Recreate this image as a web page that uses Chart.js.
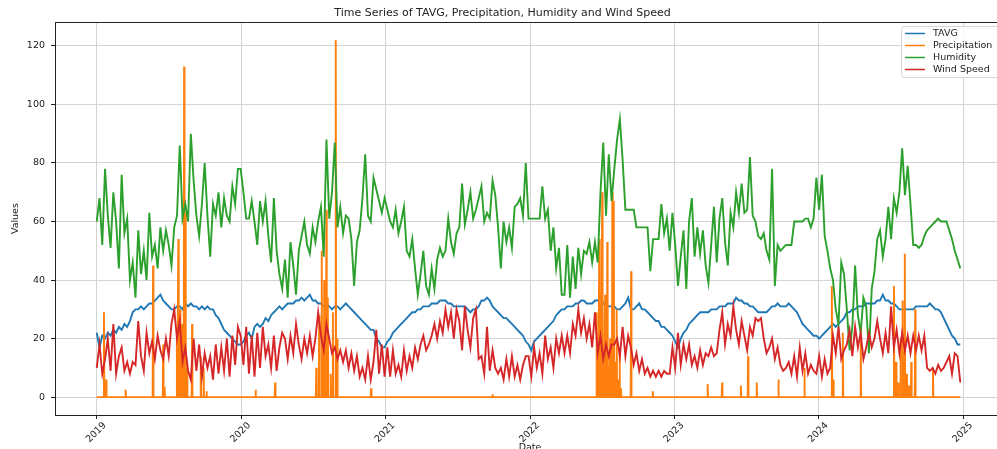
<!DOCTYPE html>
<html>
<head>
<meta charset="utf-8">
<script src="https://cdn.jsdelivr.net/npm/chart.js@4.4.1/dist/chart.umd.min.js"></script>
<style>
html, body { margin: 0; padding: 0; background: #fff; overflow: hidden; }
</style>
</head>
<body>
<canvas id="weatherChart" width="1012" height="449"></canvas>
<script>
const yearTicks = [2019, 2020, 2021, 2022, 2023, 2024, 2025];
const valueTicks = [0, 20, 40, 60, 80, 100, 120];
const seriesNames = ['TAVG', 'Precipitation', 'Humidity', 'Wind Speed'];
const seriesColors = ['#1f77b4', '#ff7f0e', '#2ca02c', '#d62728'];

// weekly readings, one row per year
const tavg = [
  22,17,21,20,22,21,23,22,24,23,25,24,26,29,30,30,31,30,31,32,32,33,34,35,33,32,31,30,30,31,31,30,32,31,32,31,31,30,31,30,31,30,30,28,27,25,23,22,21,20,19,18,
  18,19,21,22,20,24,25,24,25,27,26,28,29,30,31,30,31,32,32,32,33,33,34,33,34,35,33,33,32,32,31,32,31,30,31,31,30,31,32,31,30,29,28,27,26,25,24,23,23,20,19,17,
  17,19,20,22,23,24,25,26,27,28,29,29,30,30,31,31,31,32,32,32,33,33,33,32,32,31,31,31,31,31,30,29,30,30,31,33,33,34,33,31,30,29,28,27,27,26,25,24,23,22,21,19,
  18,16,19,20,21,22,23,24,25,26,28,29,30,30,31,31,31,32,32,33,33,32,32,32,33,33,34,32,31,31,31,31,30,30,31,32,34,30,30,31,32,30,30,29,28,27,26,26,24,24,23,22,
  21,19,17,20,22,23,25,26,27,28,29,29,29,29,30,30,30,31,31,31,32,32,32,34,33,33,32,32,31,31,30,29,29,29,29,30,31,31,32,31,31,31,32,31,30,29,27,25,24,23,22,21,
  21,20,21,22,23,24,25,24,25,26,27,29,29,30,30,31,31,31,32,32,32,32,33,33,35,33,33,32,32,31,30,30,30,30,30,30,31,31,31,31,31,32,31,30,30,29,27,25,23,21,20,18,18
];

const humidity = [
  60,68,52,78,62,51,70,60,44,76,56,61,40,46,34,57,42,50,40,63,48,52,44,58,50,57,52,45,58,62,86,61,66,60,90,74,62,55,66,80,62,48,66,62,70,58,68,62,60,72,66,78,
  78,70,61,61,67,60,52,67,60,67,55,46,68,50,42,37,47,34,53,45,35,50,55,60,52,49,58,53,60,65,48,88,61,70,87,58,65,56,62,61,54,38,53,57,68,83,62,60,75,71,67,63,
  68,64,60,58,64,56,60,65,50,48,54,44,35,42,50,38,35,44,37,47,51,48,50,61,53,49,56,58,73,59,64,70,61,64,68,72,60,63,61,74,69,58,44,60,53,58,51,65,66,68,62,80,
  61,61,61,61,61,72,61,64,50,58,44,51,35,35,52,34,48,37,51,42,50,49,53,46,53,46,70,87,62,83,67,78,88,95,81,64,64,64,64,58,58,58,58,58,43,54,54,54,66,56,61,50,
  63,52,38,48,57,37,60,68,48,58,49,57,45,39,52,65,46,61,68,53,45,63,58,70,63,73,63,64,82,62,60,55,54,56,50,47,78,38,52,50,51,52,52,52,60,60,60,60,61,61,58,61,
  75,64,76,55,50,44,40,30,25,46,42,30,16,24,45,28,22,34,31,15,37,43,54,57,48,54,65,54,68,63,70,85,69,79,66,52,52,51,52,55,57,58,59,60,61,60,60,60,57,54,50,47,44
];

const windSpeed = [
  10,18,8,13,20,9,25,8,14,17,9,12,8,12,11,26,14,9,22,15,19,13,21,16,13,20,14,25,30,20,26,12,17,9,6,20,9,18,7,15,10,14,6,18,8,17,9,20,7,21,11,24,
  21,11,24,8,21,7,22,10,24,14,18,10,21,9,17,22,20,13,21,15,25,18,13,20,15,21,14,20,29,21,16,25,20,15,17,13,16,12,16,10,15,9,14,7,10,6,14,6,12,23,8,18,
  7,17,7,16,8,11,7,16,9,14,10,17,13,18,21,16,18,21,25,20,26,22,30,24,29,20,30,26,16,31,23,17,27,30,13,14,8,24,9,16,10,8,10,6,13,7,14,7,11,6,11,14,
  14,7,17,10,15,8,21,13,17,10,20,15,21,15,21,15,25,21,30,22,27,20,25,17,29,15,21,13,18,14,18,18,20,14,24,14,21,17,11,15,9,13,8,10,7,9,7,9,7,9,8,8,
  17,10,22,11,18,13,18,11,14,10,16,11,15,14,17,14,15,23,29,18,25,21,31,23,18,26,21,16,24,21,27,26,27,20,15,17,20,13,17,11,9,10,12,8,14,7,17,9,15,8,11,9,
  8,14,7,13,8,10,21,15,24,13,16,18,23,14,24,17,22,13,17,22,17,20,26,20,15,22,15,31,17,23,15,22,16,21,15,21,16,21,16,21,10,9,10,8,11,9,10,12,14,8,15,14,5
];

// precipitation is zero on most days; these are the rainy days (decimal year) and amounts
const rainDates = [
  2019.05, 2019.065, 2019.20, 2019.39, 2019.46, 2019.47, 2019.555, 2019.565, 2019.577, 2019.59, 2019.605, 2019.615, 2019.625, 2019.66, 2019.72, 2019.74, 2019.76,
  2020.10, 2020.235, 2020.52, 2020.54, 2020.558, 2020.575, 2020.59, 2020.60, 2020.62, 2020.635, 2020.655, 2020.665, 2020.90,
  2021.74,
  2022.46, 2022.47, 2022.48, 2022.49, 2022.50, 2022.51, 2022.52, 2022.535, 2022.545, 2022.555, 2022.57, 2022.58, 2022.59, 2022.60, 2022.61, 2022.62, 2022.63, 2022.70, 2022.85,
  2023.23, 2023.33, 2023.46, 2023.51, 2023.57, 2023.72, 2023.90,
  2024.09, 2024.10, 2024.166, 2024.29, 2024.52, 2024.535, 2024.55, 2024.565, 2024.58, 2024.595, 2024.61, 2024.625, 2024.64, 2024.667, 2024.79
];
const rainValues = [
  29, 6, 2.5, 45, 18, 3.5, 20, 54, 30, 25, 113, 63, 10, 25, 14, 10, 2,
  2.5, 5, 10, 28, 50, 40, 64, 34, 8, 29, 122, 20, 3,
  1,
  29, 10, 54, 5, 70, 15, 35, 53, 8, 20, 70, 67, 12, 30, 6, 15, 3, 43, 2,
  4.5, 5, 4, 14, 5, 6, 10,
  38, 6, 22, 22, 38, 12, 5, 20, 33, 49, 8, 4, 12, 30, 10
];

const oneDay = 1 / 365.25;
const weekDates = tavg.map((_, i) => 2019 + i * 7 * oneDay);

function toPoints(values) {
  return values.map((v, i) => ({ x: weekDates[i], y: v }));
}

const precipPoints = [{ x: 2019, y: 0 }];
rainDates.forEach((d, i) => {
  precipPoints.push({ x: d - oneDay, y: 0 }, { x: d, y: rainValues[i] }, { x: d + oneDay, y: 0 });
});
precipPoints.push({ x: weekDates[weekDates.length - 1], y: 0 });

const seriesData = [toPoints(tavg), precipPoints, toPoints(humidity), toPoints(windSpeed)];

const font = '"DejaVu Sans", sans-serif';

// legend box in the upper right, plus the top frame line
const frameAndLegend = {
  id: 'frameAndLegend',
  afterDraw(chart) {
    const ctx = chart.ctx;
    const area = chart.chartArea;
    ctx.save();
    ctx.strokeStyle = '#222';
    ctx.lineWidth = 1;
    ctx.beginPath();
    ctx.moveTo(area.left, Math.round(area.top) + 0.5);
    ctx.lineTo(area.right, Math.round(area.top) + 0.5);
    ctx.moveTo(Math.round(area.right) + 0.5, area.top);
    ctx.lineTo(Math.round(area.right) + 0.5, area.bottom);
    ctx.stroke();

    const bx = 901.5, by = 26.5;
    ctx.fillStyle = 'rgba(255,255,255,0.85)';
    ctx.strokeStyle = '#d6d6d6';
    ctx.beginPath();
    ctx.roundRect(bx, by, 115, 51, 3);
    ctx.fill();
    ctx.stroke();

    ctx.font = '9.5px ' + font;
    ctx.textBaseline = 'middle';
    chart.data.datasets.forEach((ds, i) => {
      const y = 33.5 + i * 12;
      ctx.strokeStyle = ds.borderColor;
      ctx.lineWidth = 1.5;
      ctx.beginPath();
      ctx.moveTo(905, y);
      ctx.lineTo(925, y);
      ctx.stroke();
      ctx.fillStyle = '#222';
      ctx.fillText(ds.label, 933, y);
    });
    ctx.restore();
  }
};

new Chart(document.getElementById('weatherChart'), {
  type: 'line',
  data: {
    datasets: seriesNames.map((name, i) => ({
      label: name,
      data: seriesData[i],
      borderColor: seriesColors[i],
      backgroundColor: seriesColors[i],
      borderWidth: 1.9,
      pointRadius: 0,
      tension: 0,
      order: seriesNames.length - i
    }))
  },
  options: {
    responsive: false,
    animation: false,
    devicePixelRatio: 1,
    parsing: false,
    layout: { padding: { left: 0, right: 7, top: 0, bottom: 0 } },
    plugins: {
      legend: { display: false },
      tooltip: { enabled: false },
      title: {
        display: true,
        text: 'Time Series of TAVG, Precipitation, Humidity and Wind Speed',
        color: '#222',
        font: { family: font, size: 11, weight: 'normal' },
        padding: { top: 7, bottom: 2 }
      }
    },
    scales: {
      x: {
        type: 'linear',
        min: 2018.711,
        max: 2025.289,
        afterBuildTicks: s => { s.ticks = yearTicks.map(v => ({ value: v })); },
        afterFit: s => { s.height = 34; },
        ticks: {
          autoSkip: false,
          maxRotation: 45,
          minRotation: 45,
          labelOffset: 8,
          padding: 1,
          color: '#222',
          font: { family: font, size: 9.5 },
          callback: v => String(v)
        },
        grid: { color: '#d4d4d4', lineWidth: 1, tickLength: 4, tickColor: '#222' },
        border: { color: '#222', width: 1 },
        title: {
          display: true,
          text: 'Date',
          color: '#222',
          font: { family: font, size: 9.5 },
          padding: { top: 0, bottom: -4 }
        }
      },
      y: {
        min: -6.1,
        max: 128.1,
        afterBuildTicks: s => { s.ticks = valueTicks.map(v => ({ value: v })); },
        afterFit: s => { s.width = 55; },
        ticks: {
          padding: 6,
          color: '#222',
          font: { family: font, size: 9.5 }
        },
        grid: { color: '#d4d4d4', lineWidth: 1, tickLength: 4, tickColor: '#222' },
        border: { color: '#222', width: 1 },
        title: {
          display: true,
          text: 'Values',
          color: '#222',
          font: { family: font, size: 9.5 },
          padding: { top: 10, bottom: 0 }
        }
      }
    }
  },
  plugins: [frameAndLegend]
});
</script>
</body>
</html>
